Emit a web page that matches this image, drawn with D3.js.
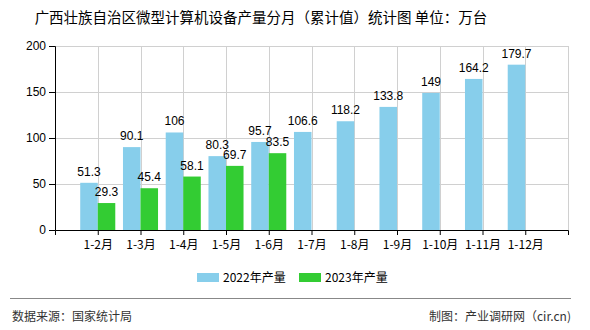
<!DOCTYPE html>
<html><head><meta charset="utf-8">
<script src="https://cdn.jsdelivr.net/npm/d3@7/dist/d3.min.js"></script>
<style>
html,body{margin:0;padding:0;background:#fff;}
text{font-family:"Liberation Sans","Noto Sans CJK SC",sans-serif;}
.cjk{font-family:"Noto Sans CJK SC",sans-serif;}
</style></head>
<body>
<svg id="c" width="590" height="330"></svg>
<script>
const categories = ["1-2月","1-3月","1-4月","1-5月","1-6月","1-7月","1-8月","1-9月","1-10月","1-11月","1-12月"];
const values2022 = [51.3, 90.1, 106, 80.3, 95.7, 106.6, 118.2, 133.8, 149, 164.2, 179.7];
const values2023 = [29.3, 45.4, 58.1, 69.7, 83.5];
const seriesNames = ["2022年产量", "2023年产量"];
const yTicks = [0, 50, 100, 150, 200];
const title = "广西壮族自治区微型计算机设备产量分月（累计值）统计图 单位：万台";
const sourceText = "数据来源：国家统计局";
const creditText = "制图：产业调研网（cir.cn)";

const colors = ["#87CEEB", "#33CC33"];
const svg = d3.select("#c");
const L = 55, R = 568, T = 46, B = 230;

const x = d3.scalePoint().domain(categories).range([L, R]).padding(1);
const y = d3.scaleLinear().domain([0, 200]).range([B, T]);
const bw = x.step() * 0.41;

// title
svg.append("text").attr("class","cjk").attr("x", 261).attr("y", 23)
  .attr("text-anchor","middle").attr("font-size", 14.5).attr("fill","#000").text(title);

// grid
const g = svg.append("g");
g.selectAll("line.h").data(yTicks.slice(1)).enter().append("line")
  .attr("x1", L).attr("x2", R).attr("y1", d => y(d)).attr("y2", d => y(d))
  .attr("stroke", "#d0d0d0").attr("stroke-width", 1).attr("shape-rendering","crispEdges");
g.selectAll("line.v").data(categories).enter().append("line")
  .attr("x1", d => Math.round(x(d))).attr("x2", d => Math.round(x(d))).attr("y1", T).attr("y2", B)
  .attr("stroke", "#d0d0d0").attr("stroke-width", 1).attr("shape-rendering","crispEdges");
g.append("line").attr("x1", R).attr("x2", R).attr("y1", T).attr("y2", B)
  .attr("stroke", "#d0d0d0").attr("shape-rendering","crispEdges");

// bars
const bars = svg.append("g");
bars.selectAll("rect.a").data(values2022).enter().append("rect")
  .attr("x", (d,i) => x(categories[i]) - bw).attr("width", bw)
  .attr("y", d => y(d)).attr("height", d => y(0) - y(d)).attr("fill", colors[0]);
bars.selectAll("rect.b").data(values2023).enter().append("rect")
  .attr("x", (d,i) => x(categories[i])).attr("width", bw)
  .attr("y", d => y(d)).attr("height", d => y(0) - y(d)).attr("fill", colors[1]);

// labels
const lab = svg.append("g").attr("font-size", 12).attr("fill", "#000").attr("text-anchor","middle");
lab.selectAll("text.a").data(values2022).enter().append("text")
  .attr("x", (d,i) => x(categories[i]) - bw/2).attr("y", d => y(d) - 7).text(d => d);
lab.selectAll("text.b").data(values2023).enter().append("text")
  .attr("x", (d,i) => x(categories[i]) + bw/2).attr("y", d => y(d) - 7).text(d => d);

// axes
const ya = svg.append("g").attr("transform", `translate(${L},0)`)
  .call(d3.axisLeft(y).tickValues(yTicks).tickSize(6).tickPadding(3));
ya.select(".domain").attr("stroke","#000");
ya.selectAll("text").attr("font-size", 12).attr("fill","#000").attr("font-family","Liberation Sans");

const xa = svg.append("g").attr("transform", `translate(0,${B})`)
  .call(d3.axisBottom(x).tickSize(5).tickPadding(4).tickSizeOuter(5));
xa.select(".domain").attr("stroke","#000");
xa.selectAll("text").attr("font-size", 12).attr("fill","#000").attr("class","cjk").attr("dy","0.85em");

// legend
const legendX = [197, 299];
seriesNames.forEach((n, i) => {
  svg.append("rect").attr("x", legendX[i]).attr("y", 273).attr("width", 22).attr("height", 9).attr("fill", colors[i]);
  svg.append("text").attr("class","cjk").attr("x", legendX[i] + 26).attr("y", 282)
    .attr("font-size", 12).attr("fill","#000").text(n);
});

// footer
svg.append("line").attr("x1", 10).attr("x2", 571).attr("y1", 298.5).attr("y2", 298.5).attr("stroke", "#888");
svg.append("text").attr("class","cjk").attr("x", 12).attr("y", 321).attr("font-size", 12).attr("fill","#333").text(sourceText);
svg.append("text").attr("class","cjk").attr("x", 571).attr("y", 321).attr("text-anchor","end").attr("font-size", 12).attr("fill","#333").text(creditText);
</script>
</body></html>
